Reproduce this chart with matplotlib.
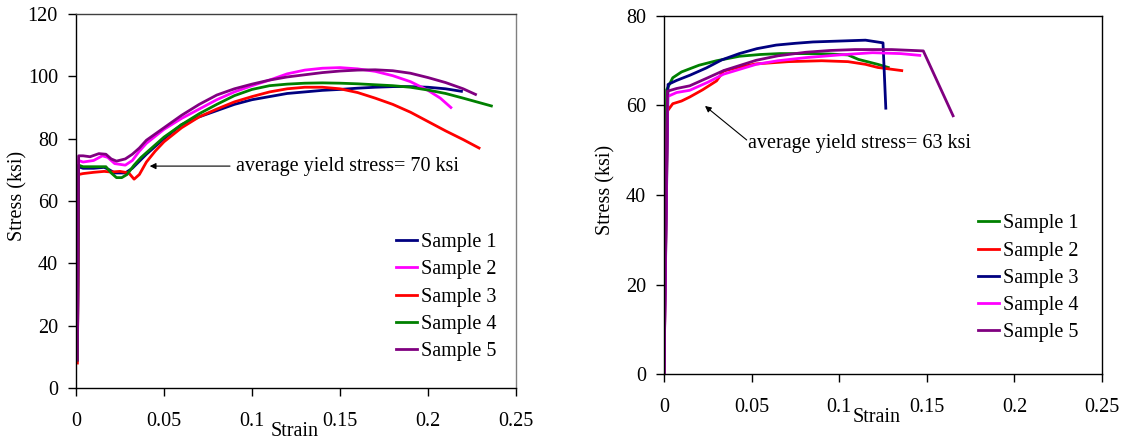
import matplotlib
matplotlib.use("Agg")
import matplotlib.pyplot as plt

plt.rcParams['font.family'] = ['Liberation Serif', 'DejaVu Serif']
FS = 14.5

# ---------------- Left chart data (strain, stress in ksi) ----------------
L1_x = [0.0008, 0.0015, 0.004, 0.01, 0.016, 0.019, 0.022, 0.028, 0.032, 0.04, 0.05, 0.06, 0.07, 0.08, 0.09, 0.1,
        0.11, 0.12, 0.13, 0.14, 0.15, 0.16, 0.17, 0.18, 0.19, 0.2, 0.21, 0.219]
L1_y = [9, 71, 70.5, 70.5, 70.8, 70, 69, 69, 70.5, 75, 80, 84.5, 87, 89, 91, 92.5,
        93.5, 94.5, 95, 95.5, 95.8, 96.2, 96.5, 96.7, 96.7, 96.5, 96, 95.2]

L2_x = [0.0008, 0.0015, 0.004, 0.01, 0.015, 0.018, 0.022, 0.028, 0.032, 0.036, 0.04, 0.05, 0.06, 0.07, 0.08, 0.09,
        0.1, 0.11, 0.12, 0.13, 0.14, 0.15, 0.16, 0.17, 0.18, 0.19, 0.2, 0.207, 0.213]
L2_y = [9, 73, 72.5, 73, 74.5, 74, 72, 71.5, 73, 76, 78.5, 83, 86.5, 89.5, 92.5, 95,
        97, 98.8, 100.8, 102, 102.6, 102.8, 102.4, 101.6, 100.2, 98.3, 95.5, 93, 90]

L3_x = [0.0008, 0.0015, 0.004, 0.01, 0.016, 0.02, 0.025, 0.03, 0.033, 0.036, 0.04, 0.045, 0.05, 0.06, 0.07, 0.08,
        0.09, 0.1, 0.11, 0.12, 0.13, 0.14, 0.15, 0.16, 0.17, 0.18, 0.19, 0.2, 0.21, 0.22, 0.229]
L3_y = [8, 68.5, 68.8, 69.2, 69.5, 69.3, 69.5, 69, 67, 68.5, 72.5, 76, 79, 83.5, 87, 89.5,
        91.8, 93.5, 95, 96, 96.5, 96.5, 96, 94.8, 93, 91, 88.5, 85.5, 82.5, 79.7, 77]

L4_x = [0.0008, 0.0015, 0.004, 0.01, 0.017, 0.02, 0.023, 0.026, 0.029, 0.033, 0.037, 0.04, 0.05, 0.06, 0.07, 0.08,
        0.09, 0.1, 0.11, 0.12, 0.13, 0.14, 0.15, 0.16, 0.17, 0.18, 0.19, 0.2, 0.21, 0.22, 0.236]
L4_y = [9, 71.5, 71, 71, 71, 69, 67.5, 67.5, 68.5, 71.5, 74, 75.5, 80.5, 84.5, 88, 91,
        93.8, 95.8, 97, 97.5, 97.8, 97.9, 97.8, 97.6, 97.3, 97, 96.5, 95.6, 94.5, 93, 90.5]

L5_x = [0.0008, 0.0015, 0.004, 0.008, 0.013, 0.017, 0.02, 0.023, 0.028, 0.032, 0.036, 0.04, 0.05, 0.06, 0.07, 0.08,
        0.09, 0.1, 0.11, 0.12, 0.13, 0.14, 0.15, 0.16, 0.17, 0.18, 0.19, 0.2, 0.21, 0.22, 0.227]
L5_y = [9, 74.5, 74.5, 74.2, 75.2, 75, 73.5, 72.8, 73.5, 75, 77, 79.5, 83.5, 87.5, 91, 94,
        96, 97.5, 98.8, 99.8, 100.5, 101.2, 101.7, 102, 102.1, 101.8, 101, 99.6, 98, 96, 94.2]

# ---------------- Right chart data ----------------
R1_x = [0, 0.0015, 0.005, 0.01, 0.02, 0.03, 0.043, 0.055, 0.066, 0.08, 0.095, 0.105, 0.111, 0.122, 0.128]
R1_y = [0, 63.5, 66.2, 67.5, 69, 70, 71, 71.4, 71.6, 71.6, 71.5, 71.3, 70.3, 69.2, 68.5]

R2_x = [0, 0.002, 0.005, 0.01, 0.0147, 0.022, 0.03, 0.034, 0.042, 0.0526, 0.071, 0.09, 0.105, 0.115, 0.122, 0.1357]
R2_y = [0, 58.8, 60.4, 61, 61.9, 63.5, 65.5, 67.7, 68.5, 69.3, 69.8, 70, 69.8, 69.2, 68.5, 67.8]

R3_x = [0, 0.0023, 0.0072, 0.015, 0.0242, 0.033, 0.043, 0.053, 0.064, 0.075, 0.085, 0.1, 0.115, 0.125, 0.1266]
R3_y = [0, 64.7, 65.6, 66.8, 68.4, 70.2, 71.6, 72.7, 73.5, 73.9, 74.2, 74.4, 74.6, 74.0, 59.4]

R4_x = [0, 0.002, 0.0072, 0.0147, 0.025, 0.034, 0.0526, 0.065, 0.081, 0.1, 0.119, 0.135, 0.146]
R4_y = [0, 62, 62.9, 63.4, 65.2, 67, 69.2, 70, 70.7, 71.3, 71.8, 71.6, 71.2]

R5_x = [0, 0.002, 0.0072, 0.0147, 0.025, 0.034, 0.0526, 0.065, 0.081, 0.095, 0.109, 0.13, 0.148, 0.165]
R5_y = [0, 63.2, 63.8, 64.4, 66.2, 67.8, 70.1, 71.1, 71.9, 72.3, 72.5, 72.5, 72.2, 57.7]

x_ticks = [0, 0.05, 0.1, 0.15, 0.2, 0.25]
x_ticklabels = ['0', '0.05', '0.1', '0.15', '0.2', '0.25']
left_yticks = [0, 20, 40, 60, 80, 100, 120]
right_yticks = [0, 20, 40, 60, 80]

NAVY, MAG, RED, GRN, PUR = '#000080', '#FF00FF', '#FF0000', '#008000', '#800080'

fig = plt.figure(figsize=(11.32, 4.41), dpi=100)
axL = fig.add_axes([76/1132, 1-388/441, 440/1132, 374/441])
axR = fig.add_axes([664/1132, 1-374/441, 438/1132, 358/441])

LW = 2.0
left_series = [(L1_x, L1_y, NAVY, 'Sample 1'), (L2_x, L2_y, MAG, 'Sample 2'),
               (L3_x, L3_y, RED, 'Sample 3'), (L4_x, L4_y, GRN, 'Sample 4'),
               (L5_x, L5_y, PUR, 'Sample 5')]
for x, y, c, lab in left_series:
    axL.plot(x, y, color=c, lw=LW, label=lab, solid_joinstyle='round')

right_series = [(R1_x, R1_y, GRN, 'Sample 1'), (R2_x, R2_y, RED, 'Sample 2'),
                (R3_x, R3_y, NAVY, 'Sample 3'), (R4_x, R4_y, MAG, 'Sample 4'),
                (R5_x, R5_y, PUR, 'Sample 5')]
for x, y, c, lab in right_series:
    axR.plot(x, y, color=c, lw=LW, label=lab, solid_joinstyle='round')

for ax, yt, ymax in [(axL, left_yticks, 120), (axR, right_yticks, 80)]:
    ax.set_xlim(0, 0.25)
    ax.set_ylim(0, ymax)
    ax.set_xticks(x_ticks)
    ax.set_xticklabels(x_ticklabels)
    ax.set_yticks(yt)
    ax.tick_params(direction='out', length=6, width=1, labelsize=FS, colors='black')
    ax.tick_params(axis='x', pad=11)
    ax.tick_params(axis='y', pad=7)
    for s in ax.spines.values():
        s.set_linewidth(1.0)
        s.set_color('black')
    ax.set_xlabel('Strain', fontsize=FS)
    ax.set_ylabel('Stress (ksi)', fontsize=FS)

axL.spines['right'].set_color('#808080')
axL.spines['top'].set_color('#404040')

axL.xaxis.set_label_coords(0.498, -0.091)
axL.yaxis.set_label_coords(-0.111, 0.513)
axR.xaxis.set_label_coords(0.486, -0.096)
axR.yaxis.set_label_coords(-0.110, 0.514)

legkw = dict(frameon=False, fontsize=FS, handlelength=1.05, handletextpad=0.2,
             labelspacing=0.40, borderpad=0, borderaxespad=0, loc='upper left')
axL.legend(bbox_to_anchor=(0.728, 0.414), **legkw)
axR.legend(bbox_to_anchor=(0.716, 0.446), **legkw)

arrow = dict(arrowstyle='-|>', color='black', lw=0.8, mutation_scale=9, shrinkA=0, shrinkB=0)
axL.text(0.091, 71.2, 'average yield stress= 70 ksi', fontsize=FS, va='center', ha='left')
axL.annotate('', xy=(0.0419, 71.2), xytext=(0.0875, 71.2), arrowprops=arrow)
axR.text(0.048, 51.6, 'average yield stress= 63 ksi', fontsize=FS, va='center', ha='left')
axR.annotate('', xy=(0.0234, 59.9), xytext=(0.0472, 52.3), arrowprops=arrow)

fig.savefig('out.png', dpi=100)
